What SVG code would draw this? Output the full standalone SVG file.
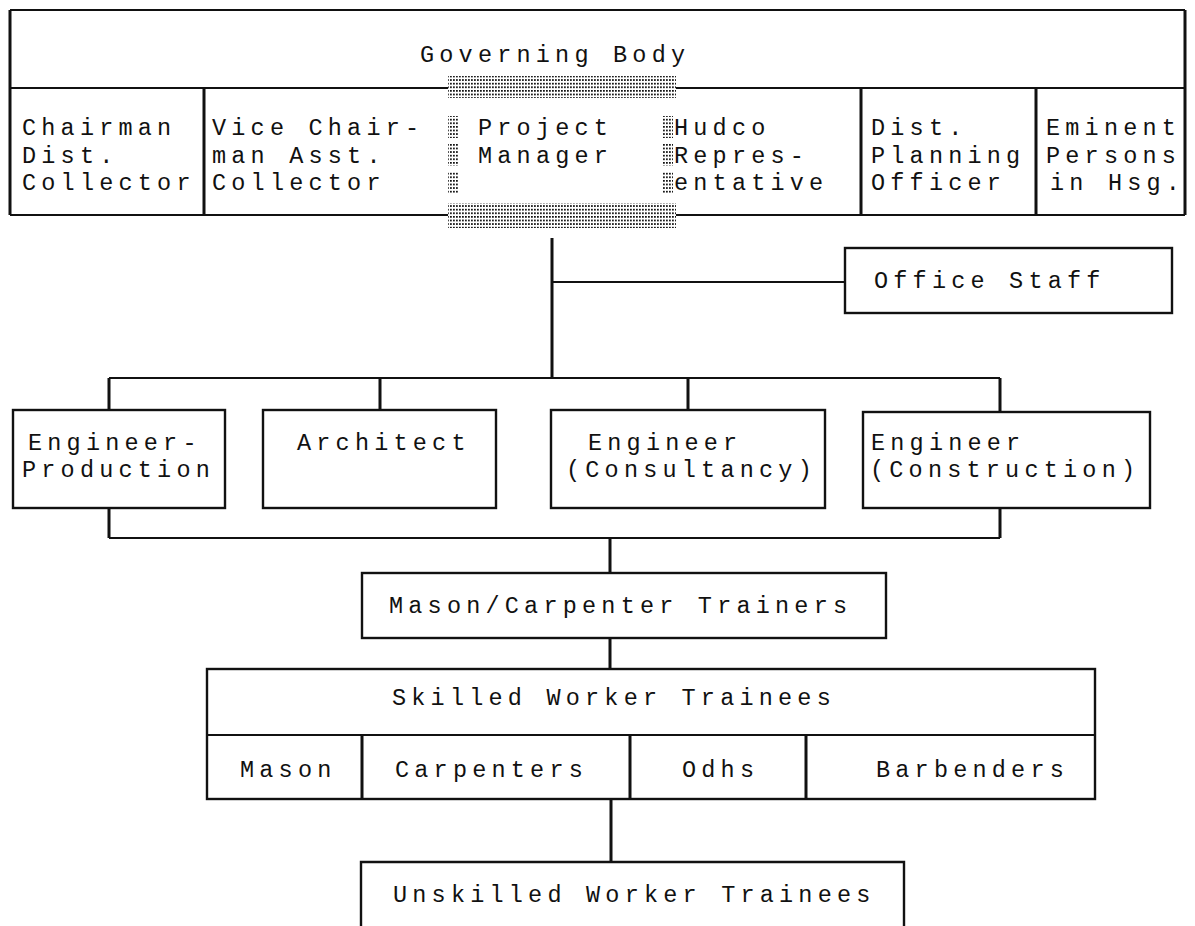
<svg xmlns="http://www.w3.org/2000/svg" width="1195" height="926" viewBox="0 0 1195 926">
<defs>
<pattern id="dots" width="3" height="3.6" patternUnits="userSpaceOnUse"><rect x="0" y="0" width="1.8" height="1.7" fill="#111"/></pattern>
</defs>
<style>
text{font-family:"Liberation Mono","DejaVu Sans Mono",monospace;font-size:23.5px;letter-spacing:5.2px;fill:#111}
.h{stroke:#111;stroke-width:2.2;fill:none}
.v{stroke:#111;stroke-width:3;fill:none}
.box{stroke:#111;stroke-width:2.4;fill:none}
.shade{fill:url(#dots)}
</style>
<rect width="1195" height="926" fill="#fff"/>

<g id="governing-body">
<path class="h" d="M10 10 H1185 M10 88 H448 M676 88 H1185 M10 215 H448 M676 215 H1185"/>
<path class="v" d="M10 10 V215 M1185 10 V215 M204 88 V215 M861 88 V215 M1036 88 V215"/>
<text x="420" y="62">Governing Body</text>
</g>

<g id="chairman">
<text x="22" y="135">Chairman</text>
<text x="22" y="163">Dist.</text>
<text x="22" y="190">Collector</text>
</g>
<g id="vice-chairman">
<text x="212" y="135">Vice Chair-</text>
<text x="212" y="163">man Asst.</text>
<text x="212" y="190">Collector</text>
</g>
<g id="project-manager">
<rect class="shade" x="448" y="76" width="228" height="22"/>
<rect class="shade" x="448" y="116" width="11" height="22"/>
<rect class="shade" x="448" y="144" width="11" height="22"/>
<rect class="shade" x="448" y="171" width="11" height="22"/>
<rect class="shade" x="662" y="116" width="11" height="22"/>
<rect class="shade" x="662" y="144" width="11" height="22"/>
<rect class="shade" x="662" y="171" width="11" height="22"/>
<rect class="shade" x="448" y="203" width="228" height="25"/>
<text x="478" y="135">Project</text>
<text x="478" y="163">Manager</text>
</g>
<g id="hudco-representative">
<text x="674" y="135">Hudco</text>
<text x="674" y="163">Repres-</text>
<text x="674" y="190">entative</text>
</g>
<g id="dist-planning-officer">
<text x="871" y="135">Dist.</text>
<text x="871" y="163">Planning</text>
<text x="871" y="190">Officer</text>
</g>
<g id="eminent-persons">
<text x="1046" y="135">Eminent</text>
<text x="1046" y="163">Persons</text>
<text x="1050" y="190">in Hsg.</text>
</g>

<g id="connectors">
<path class="v" d="M552 238 V378 M109 378 V410 M380 378 V410 M688 378 V410 M1000 378 V412 M109 508 V538 M1000 508 V538 M610 538 V573 M610 638 V669 M611 799 V862"/>
<path class="h" d="M552 282 H845 M109 378 H1000 M109 538 H1000"/>
</g>

<g id="office-staff">
<rect class="box" x="845" y="248" width="327" height="65"/>
<text x="874" y="288">Office Staff</text>
</g>

<g id="engineer-production">
<rect class="box" x="13" y="410" width="212" height="98"/>
<text x="28" y="450">Engineer-</text>
<text x="22" y="477">Production</text>
</g>
<g id="architect">
<rect class="box" x="263" y="410" width="233" height="98"/>
<text x="297" y="450">Architect</text>
</g>
<g id="engineer-consultancy">
<rect class="box" x="551" y="410" width="274" height="98"/>
<text x="588" y="450">Engineer</text>
<text x="566" y="477">(Consultancy)</text>
</g>
<g id="engineer-construction">
<rect class="box" x="863" y="412" width="287" height="96"/>
<text x="871" y="450">Engineer</text>
<text x="870" y="477">(Construction)</text>
</g>

<g id="mason-carpenter-trainers">
<rect class="box" x="362" y="573" width="524" height="65"/>
<text x="389" y="613">Mason/Carpenter Trainers</text>
</g>

<g id="skilled-worker-trainees">
<rect class="box" x="207" y="669" width="888" height="130"/>
<path class="h" d="M207 735 H1095"/>
<path class="v" d="M362 735 V799 M630 735 V799 M806 735 V799"/>
<text x="392" y="705">Skilled Worker Trainees</text>
<text x="240" y="777">Mason</text>
<text x="395" y="777">Carpenters</text>
<text x="682" y="777">Odhs</text>
<text x="876" y="777">Barbenders</text>
</g>

<g id="unskilled-worker-trainees">
<path class="box" d="M361 926 V862 H904 V926"/>
<text x="393" y="902">Unskilled Worker Trainees</text>
</g>
</svg>
